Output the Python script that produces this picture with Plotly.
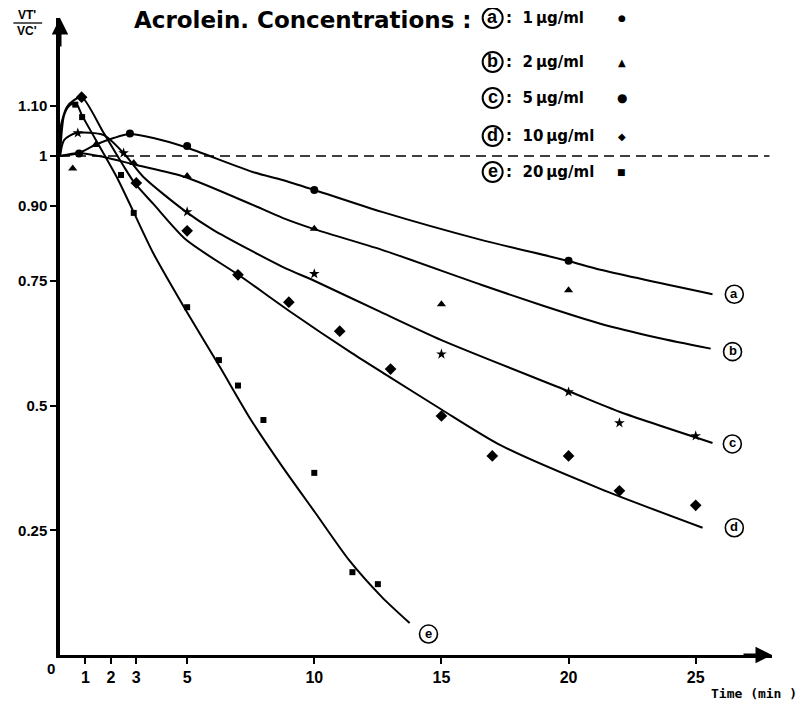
import plotly.graph_objects as go

# ---------------- data ----------------
# smooth fitted curves (time in min, VT'/VC')
a_curve_t = [0, 0.74, 1.37, 2.11, 2.73, 3.67, 4.92, 7.58, 8.75, 10.0, 12.66, 16.56, 19.96, 21.25, 25.66]
a_curve_v = [1.0, 1.006, 1.022, 1.036, 1.044, 1.036, 1.018, 0.968, 0.952, 0.932, 0.888, 0.832, 0.790, 0.772, 0.723]

b_curve_t = [0, 0.74, 1.72, 3.0, 4.92, 7.58, 8.75, 9.96, 12.66, 16.56, 19.0, 21.25, 23.5, 25.59]
b_curve_v = [1.0, 1.006, 0.998, 0.982, 0.958, 0.902, 0.876, 0.854, 0.812, 0.742, 0.700, 0.664, 0.636, 0.614]

c_curve_t = [0, 0.16, 0.63, 1.72, 2.5, 3.28, 4.96, 6.02, 8.75, 10.0, 12.5, 15.0, 20.08, 22.03, 25.66]
c_curve_v = [1.0, 1.032, 1.046, 1.042, 1.006, 0.958, 0.888, 0.852, 0.778, 0.750, 0.690, 0.631, 0.527, 0.487, 0.425]

d_curve_t = [0, 0.04, 0.27, 0.55, 0.86, 1.72, 2.5, 2.93, 3.67, 4.96, 7.07, 9.0, 11.48, 13.0, 15.0, 17.34, 21.25, 25.27]
d_curve_v = [1.0, 1.062, 1.098, 1.112, 1.118, 1.046, 0.980, 0.946, 0.904, 0.832, 0.760, 0.690, 0.605, 0.556, 0.492, 0.420, 0.333, 0.255]

e_curve_t = [0, 0.16, 0.39, 0.63, 0.86, 2.23, 2.89, 3.67, 4.96, 6.29, 7.5, 8.75, 10.04, 11.37, 12.66, 13.75]
e_curve_v = [1.0, 1.082, 1.102, 1.106, 1.082, 0.958, 0.888, 0.805, 0.690, 0.577, 0.472, 0.377, 0.285, 0.190, 0.116, 0.064]

# measured points
a_pts_t = [0.75, 2.75, 5, 10, 20]
a_pts_v = [1.005, 1.045, 1.02, 0.932, 0.79]
b_pts_t = [0.5, 1.4, 2.9, 5, 10, 15, 20]
b_pts_v = [0.975, 1.022, 0.986, 0.96, 0.854, 0.703, 0.731]
c_pts_t = [0.7, 2.5, 5, 10, 15, 20, 22, 25]
c_pts_v = [1.046, 1.006, 0.888, 0.764, 0.603, 0.527, 0.465, 0.439]
d_pts_t = [0.85, 3, 5, 7, 9, 11, 13, 15, 17, 20, 22, 25]
d_pts_v = [1.118, 0.946, 0.85, 0.762, 0.707, 0.649, 0.573, 0.479, 0.399, 0.399, 0.329, 0.30]
e_pts_t = [0.6, 0.87, 2.4, 2.9, 5, 6.25, 7, 8, 10, 11.5, 12.5]
e_pts_v = [1.103, 1.078, 0.962, 0.886, 0.697, 0.591, 0.540, 0.471, 0.365, 0.166, 0.142]

series_letters = ["a", "b", "c", "d", "e"]
series_conc = ["1\u2009\u00b5g/ml", "2\u2009\u00b5g/ml", "5\u2009\u00b5g/ml", "10\u2009\u00b5g/ml", "20\u2009\u00b5g/ml"]
legend_glyphs = ["\u25cf", "\u25b2", "\u25cf", "\u25c6", "\u25a0"]

x_tick_vals = [1, 2, 3, 5, 10, 15, 20, 25]
x_tick_text = ["1", "2", "3", "5", "10", "15", "20", "25"]
y_tick_vals = [0.25, 0.5, 0.75, 0.90, 1.0, 1.10]
y_tick_text = ["0.25", "0.5", "0.75", "0.90", "1", "1.10"]

# ---------------- layout geometry ----------------
OFF = 8                      # page body margin of the browser
W, H = 798, 698
PLEFT, PTOP, PBOT, PRIGHT = 55, 18, 655, 772.5   # plot area in page pixels
L, T = PLEFT - OFF, PTOP - OFF
B = (OFF + H) - PBOT
R = (OFF + W) - PRIGHT
PW, PH = PRIGHT - PLEFT, PBOT - PTOP
XMAX, YMAX = 28.0, 1.2766

def px(xp, yp):
    return (xp - PLEFT) / PW, (PBOT - yp) / PH

BOLD = "Liberation Sans"
fig = go.Figure()

curves = [(a_curve_t, a_curve_v), (b_curve_t, b_curve_v), (c_curve_t, c_curve_v),
          (d_curve_t, d_curve_v), (e_curve_t, e_curve_v)]
points = [(a_pts_t, a_pts_v, "circle", 8), (b_pts_t, b_pts_v, "triangle-up", 8),
          (c_pts_t, c_pts_v, "star", 8), (d_pts_t, d_pts_v, "diamond", 9),
          (e_pts_t, e_pts_v, "square", 6)]

for (ct, cv), (pt, pv, sym, sz) in zip(curves, points):
    fig.add_trace(go.Scatter(x=ct, y=cv, mode="lines",
                             line=dict(color="black", width=2, shape="spline", smoothing=0.7),
                             hoverinfo="skip", showlegend=False))
    fig.add_trace(go.Scatter(x=pt, y=pv, mode="markers",
                             marker=dict(symbol=sym, size=sz, color="black"),
                             showlegend=False, cliponaxis=False))

shapes = []
annotations = []

def ann(x, y, text, size, family=BOLD, xanchor="center", ref="paper", **kw):
    d = dict(xref="paper", yref="paper", x=x, y=y, text=text, showarrow=False,
             xanchor=xanchor, yanchor="middle", font=dict(family=family, size=size, color="black"))
    if ref != "paper":
        d["xref"], d["yref"] = "x", "y"
    d.update(kw)
    annotations.append(d)

# reference dashed line at 1
shapes.append(dict(type="line", xref="x", yref="y", x0=0, x1=XMAX - 0.1, y0=1, y1=1,
                   line=dict(color="black", width=1.5, dash="10px,6px")))

# axis arrows
annotations.append(dict(xref="paper", yref="paper", x=0, y=1, ax=0, ay=30, text="",
                        showarrow=True, arrowhead=2, arrowsize=1.1, arrowwidth=3, arrowcolor="black"))
annotations.append(dict(xref="paper", yref="paper", x=1, y=0, ax=-30, ay=0, text="",
                        showarrow=True, arrowhead=2, arrowsize=1.1, arrowwidth=3, arrowcolor="black"))

# curve end labels
end_shift = [(22, 0), (22, -3), (20, -1), (32, 0), (19, -11)]
for (ct, cv), let, (dx, dy) in zip(curves, series_letters, end_shift):
    ex = ct[-1] + dx * XMAX / PW
    ey = cv[-1] + dy * YMAX / PH
    shapes.append(dict(type="circle", xref="x", yref="y", xsizemode="pixel", ysizemode="pixel",
                       xanchor=ex, yanchor=ey, x0=-9, x1=9, y0=-9, y1=9,
                       line=dict(color="black", width=1.6)))
    ann(ex, ey, "<b>%s</b>" % let, 13, ref="data", yshift=1)

# title
tx, ty = px(128, 20)
ann(tx, ty, "<b>Acrolein. Concentrations :</b>", 23, family="DejaVu Sans", xanchor="left")

# legend block
row_y = [18, 62, 98, 136, 172]
glyph_size = [9, 10, 12, 10, 9]
for let, conc, gl, gs, ry in zip(series_letters, series_conc, legend_glyphs, glyph_size, row_y):
    cx, cy = px(491, ry)
    shapes.append(dict(type="circle", xref="paper", yref="paper", xsizemode="pixel", ysizemode="pixel",
                       xanchor=cx, yanchor=cy, x0=-10, x1=10, y0=-10, y1=10,
                       line=dict(color="black", width=2)))
    ann(cx, cy, "<b>%s</b>" % let, 18, yshift=1)
    lx, ly = px(502, ry)
    ann(lx, ly, "<b>:  %s</b>" % conc, 15, family="DejaVu Sans", xanchor="left")
    gx, gy = px(621, ry)
    ann(gx, gy, gl, gs, family="DejaVu Sans")

# y axis quantity (fraction VT'/VC')
fx, fy1 = px(22, 15)
_, fy2 = px(22, 31)
ann(fx, fy1, "<b>VT'</b>", 12)
ann(fx, fy2, "<b>VC'</b>", 12)
bx0, by = px(8, 23)
bx1, _ = px(37, 23)
shapes.append(dict(type="line", xref="paper", yref="paper", x0=bx0, x1=bx1, y0=by, y1=by,
                   line=dict(color="black", width=1.3)))

# origin label and axis title
ox, oy = px(46, 668)
ann(ox, oy, "<b>0</b>", 15)
tmx, tmy = px(800, 693)
ann(tmx, tmy, "<b>Time (min )</b>", 13, family="DejaVu Sans Mono", xanchor="right")

fig.update_layout(
    width=W, height=H, margin=dict(l=L, r=R, t=T, b=B),
    paper_bgcolor="white", plot_bgcolor="white",
    shapes=shapes, annotations=annotations, showlegend=False,
    xaxis=dict(range=[0, XMAX], showgrid=False, zeroline=False, showline=True, linewidth=3,
               linecolor="black", ticks="outside", ticklen=6, tickwidth=1.5, tickcolor="black",
               tickvals=x_tick_vals, ticktext=x_tick_text,
               tickfont=dict(family="Liberation Sans Narrow, Liberation Sans", size=16, color="black", weight="bold")),
    yaxis=dict(range=[0, YMAX], showgrid=False, zeroline=False, showline=True, linewidth=3.5,
               linecolor="black", ticks="outside", ticklen=6, tickwidth=1.5, tickcolor="black",
               tickvals=y_tick_vals, ticktext=y_tick_text,
               tickfont=dict(family=BOLD, size=15, color="black", weight="bold")),
)

fig.write_html("out.html")
